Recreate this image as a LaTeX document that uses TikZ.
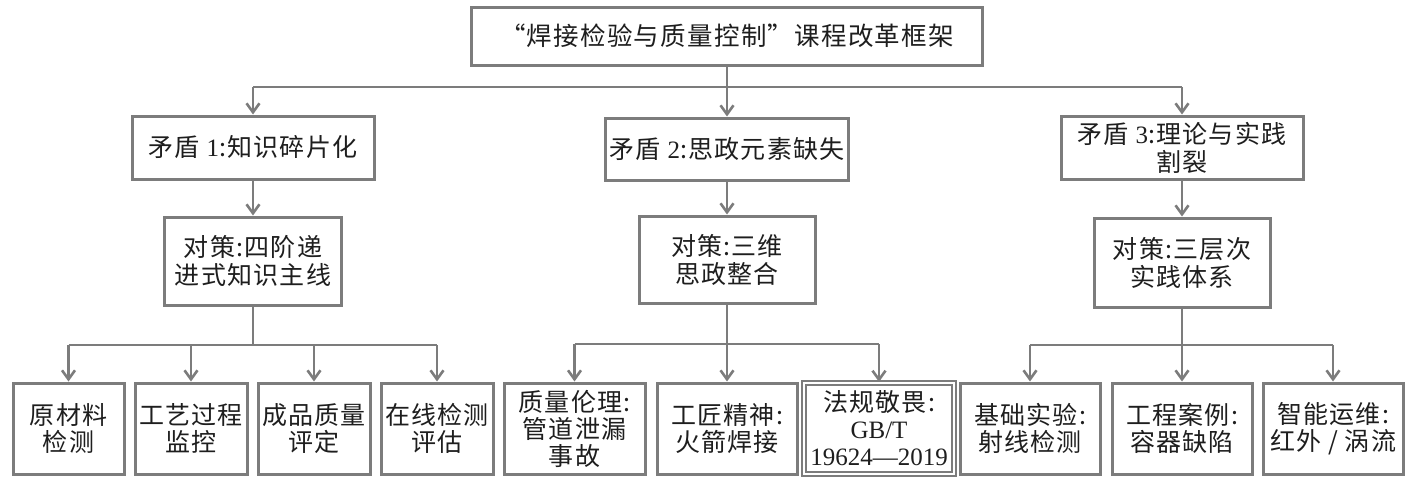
\documentclass[tikz,border=0pt]{standalone}
\usepackage{fontspec}
\setmainfont[LetterSpace=5]{Noto Sans CJK SC}
\newfontfamily\lat{Liberation Serif}
\usetikzlibrary{arrows.meta}
\definecolor{linegray}{HTML}{7C7C7C}
\definecolor{txtcol}{HTML}{1E1E1E}
\tikzset{
  box/.style={draw=linegray, line width=3pt, fill=white, align=center, text=txtcol,
    inner sep=1pt, font=\fontsize{25}{28}\selectfont},
  conn/.style={draw=linegray, line width=2.6pt},
  arr/.style={conn, -{Straight Barb[length=9pt,width=13pt]}},
}
\begin{document}
\begin{tikzpicture}[x=1pt,y=-1pt]
\useasboundingbox (0,0) rectangle (1407,480);
% top
\node[box, minimum width=511pt, minimum height=58pt, font=\fontsize{25.5}{28}\selectfont] (top) at (727,36) {“焊接检验与质量控制”课程改革框架};
% level 2
\node[box, minimum width=242pt, minimum height=63pt] (m1) at (253,147.5) {矛盾 {\lat 1}:知识碎片化};
\node[box, minimum width=243pt, minimum height=62pt] (m2) at (727,149) {矛盾 {\lat 2}:思政元素缺失};
\node[box, minimum width=242pt, minimum height=63pt] (m3) at (1182,147.5) {矛盾 {\lat 3}:理论与实践\\割裂};
% level 3
\node[box, minimum width=177pt, minimum height=88pt] (c1) at (253,261) {对策:四阶递\\进式知识主线};
\node[box, minimum width=176pt, minimum height=87pt] (c2) at (727,259.5) {对策:三维\\思政整合};
\node[box, minimum width=176pt, minimum height=89pt] (c3) at (1182,262.5) {对策:三层次\\实践体系};
% leaves
\tikzset{leaf/.style={box, minimum height=91pt, font=\fontsize{25}{27}\selectfont}}
\node[leaf, minimum width=111pt] (l1) at (68.5,428.5) {原材料\\检测};
\node[leaf, minimum width=112pt] (l2) at (191,428.5) {工艺过程\\监控};
\node[leaf, minimum width=112pt] (l3) at (314,428.5) {成品质量\\评定};
\node[leaf, minimum width=112pt] (l4) at (437,428.5) {在线检测\\评估};
\node[leaf, minimum width=141pt] (l5) at (574.5,428.5) {质量伦理:\\管道泄漏\\事故};
\node[leaf, minimum width=140pt] (l6) at (727,428.5) {工匠精神:\\火箭焊接};
\node[leaf, minimum width=150pt, double=white, double distance=1.2pt, line width=2.2pt] (l7) at (879,428.5) {法规敬畏:\\{\lat GB/T}\\{\lat 19624—2019}};
\node[leaf, minimum width=140pt] (l8) at (1030,428.5) {基础实验:\\射线检测};
\node[leaf, minimum width=140pt] (l9) at (1182,428.5) {工程案例:\\容器缺陷};
\node[leaf, minimum width=140pt] (l10) at (1333,428.5) {智能运维:\\红外 / 涡流};
% connectors top -> level 2
\coordinate (b0) at (727,87);
\draw[conn] (b0 -| m1.north) -- (b0 -| m3.north);
\draw[arr] (top.south) -- (m2.north);
\draw[arr] (b0 -| m1.north) -- (m1.north);
\draw[arr] (b0 -| m3.north) -- (m3.north);
% level 2 -> level 3
\draw[arr] (m1.south) -- (c1.north);
\draw[arr] (m2.south) -- (c2.north);
\draw[arr] (m3.south) -- (c3.north);
% level 3 -> leaves
\coordinate (b1) at (253,345);
\coordinate (b2) at (727,344);
\coordinate (b3) at (1182,345);
\draw[conn] (c1.south) -- (b1);
\draw[conn] (b1 -| l1.north) -- (b1 -| l4.north);
\foreach \n in {l1,l2,l3,l4} \draw[arr] (b1 -| \n.north) -- (\n.north);
\draw[conn] (b2 -| l5.north) -- (b2 -| l7.north);
\draw[arr] (c2.south) -- (l6.north);
\draw[arr] (b2 -| l5.north) -- (l5.north);
\draw[arr] (b2 -| l7.north) -- (l7.north);
\draw[conn] (b3 -| l8.north) -- (b3 -| l10.north);
\draw[arr] (c3.south) -- (l9.north);
\draw[arr] (b3 -| l8.north) -- (l8.north);
\draw[arr] (b3 -| l10.north) -- (l10.north);
\end{tikzpicture}
\end{document}
